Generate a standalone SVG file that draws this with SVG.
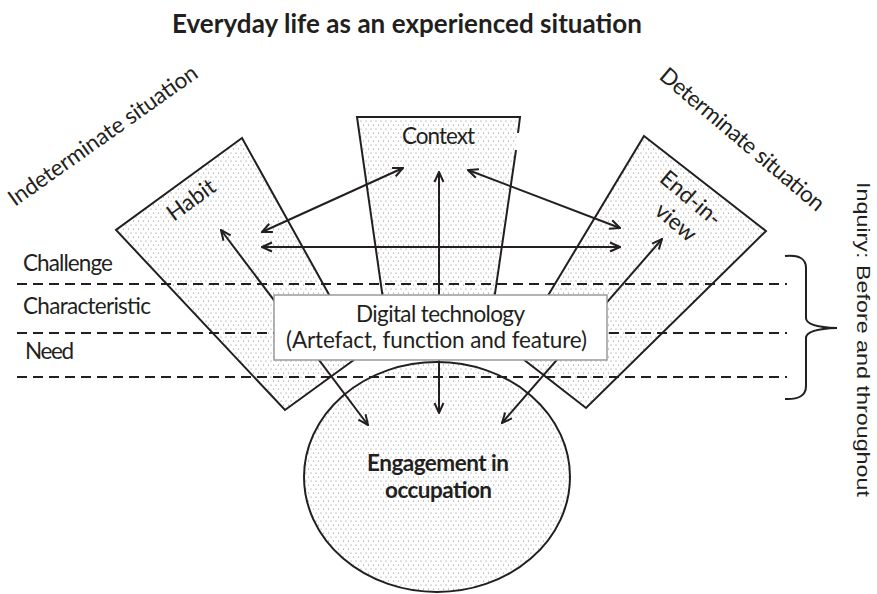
<svg xmlns="http://www.w3.org/2000/svg" width="877" height="594" viewBox="0 0 877 594">
<style>
.shape{fill:url(#dots);stroke:#231f20;stroke-width:2}
.fillonly{fill:url(#dots);stroke:none}
.edge{fill:none;stroke:#231f20;stroke-width:2}
.lbl{font-family:Lato,'Liberation Sans',sans-serif;font-size:22.5px;fill:#231f20}
.title{font-family:Lato,'Liberation Sans',sans-serif;font-size:26px;font-weight:bold;fill:#231f20}
.dash{stroke:#231f20;stroke-width:2;stroke-dasharray:10 6}
.arr{stroke:#231f20;stroke-width:2;fill:none;marker-start:url(#ah);marker-end:url(#ah)}
</style>
<defs>
<pattern id="dots" width="5" height="8" patternUnits="userSpaceOnUse">
<rect width="5" height="8" fill="#ffffff"/>
<circle cx="1" cy="1" r="0.55" fill="#7a7a7a"/>
<circle cx="3.5" cy="5" r="0.55" fill="#7a7a7a"/>
</pattern>
<marker id="ah" viewBox="0 0 12 12" refX="11" refY="6" markerWidth="12" markerHeight="12" markerUnits="userSpaceOnUse" orient="auto-start-reverse">
<path d="M1,1.5 L11,6 L1,10.5" fill="none" stroke="#231f20" stroke-width="2"/>
</marker>
</defs>
<rect width="877" height="594" fill="#ffffff"/>
<text class="title" x="407" y="33" text-anchor="middle" textLength="470">Everyday life as an experienced situation</text>

<g id="habit">
<polygon class="shape" points="242,138 116,230 285,410 362,354"/>
</g>
<g id="context">
<polygon class="fillonly" points="357,117 520,117 486,355 391,355"/>
<path class="edge" d="M391,355 L357,117 L520,117 L518,133 M516,150 L486,355"/>
</g>
<g id="endinview">
<polygon class="shape" points="644,136 766,231 586,408 514,352"/>
</g>
<g id="engagement">
<ellipse class="shape" cx="437" cy="477" rx="133" ry="115"/>
</g>

<g id="levels">
<line class="dash" x1="17" y1="284" x2="787" y2="284"/>
<line class="dash" x1="17" y1="333" x2="787" y2="333"/>
<line class="dash" x1="17" y1="377" x2="787" y2="377"/>
</g>

<g id="connectors">
<line class="arr" x1="262" y1="232" x2="403" y2="168"/>
<line class="arr" x1="262" y1="247" x2="620" y2="247"/>
<line class="arr" x1="468" y1="170" x2="620" y2="228"/>
<line class="arr" x1="439" y1="172" x2="439" y2="413"/>
<line class="arr" x1="221" y1="230" x2="368" y2="425"/>
<line class="arr" x1="662" y1="239" x2="502" y2="423"/>
</g>

<g id="digital">
<rect x="274" y="295" width="333" height="65" fill="#ffffff" stroke="#9a9a9a" stroke-width="1.5"/>
<text class="lbl" x="440.5" y="322" text-anchor="middle" textLength="169">Digital technology</text>
<text class="lbl" x="436.5" y="348" text-anchor="middle" textLength="301">(Artefact, function and feature)</text>
</g>

<g id="labels">
<text class="lbl" x="438.5" y="144" text-anchor="middle" textLength="73">Context</text>
<text class="lbl" transform="translate(195.6,206) rotate(-36)" text-anchor="middle">Habit</text>
<text class="lbl" transform="translate(686,204) rotate(40)" text-anchor="middle">End-in-</text>
<text class="lbl" transform="translate(671,228) rotate(40)" text-anchor="middle">view</text>
<text class="lbl" x="438" y="471" text-anchor="middle" font-weight="bold" textLength="142">Engagement in</text>
<text class="lbl" x="438.5" y="498" text-anchor="middle" font-weight="bold" textLength="107">occupation</text>
<text class="lbl" x="23" y="271" textLength="90">Challenge</text>
<text class="lbl" x="23" y="314" textLength="128">Characteristic</text>
<text class="lbl" x="25" y="359" textLength="49">Need</text>
<text class="lbl" transform="translate(15,207) rotate(-35.3)" textLength="226">Indeterminate situation</text>
<text class="lbl" transform="translate(658,78) rotate(40.2)" textLength="208">Determinate situation</text>
<text transform="translate(857,182) rotate(90)" font-family="'Liberation Sans',Arial,sans-serif" font-size="19" fill="#231f20" textLength="315" lengthAdjust="spacingAndGlyphs">Inquiry: Before and throughout</text>
</g>

<g id="inquiry-brace">
<path class="edge" d="M785,256 Q806,254 806,268 L806,318 Q806,327 837,328 Q806,329 806,338 L806,386 Q806,400 785,399"/>
</g>
</svg>
